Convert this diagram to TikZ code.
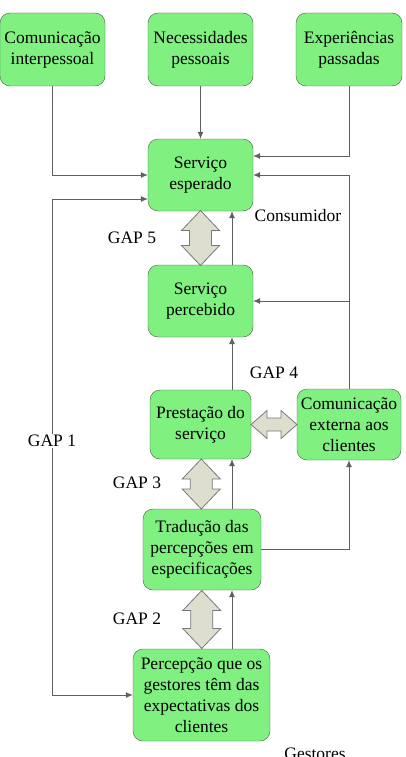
\documentclass[tikz,border=0pt]{standalone}
\usepackage{fontspec}
\setmainfont{Liberation Serif}
\usetikzlibrary{arrows.meta,positioning,calc}
\definecolor{boxgreen}{RGB}{128,240,128}
\definecolor{boxline}{RGB}{70,95,70}
\definecolor{gapfill}{RGB}{221,222,206}
\definecolor{gapline}{RGB}{120,120,120}
\definecolor{linegray}{RGB}{95,95,95}

\tikzset{
  box/.style={draw=boxline, fill=boxgreen, rounded corners=10pt, inner sep=0pt,
              align=center, font=\fontsize{17.5}{21}\selectfont},
  lbl/.style={inner sep=1pt, font=\fontsize{17.5}{21}\selectfont},
  conn/.style={draw=linegray, line width=0.8pt},
  vgap/.pic={% #1 = half length
    \draw[fill=gapfill, draw=gapline, line width=0.8pt]
      (0,-#1) -- (19,-#1+20) -- (11,-#1+20) -- (11,#1-20) -- (19,#1-20)
      -- (0,#1) -- (-19,#1-20) -- (-11,#1-20) -- (-11,-#1+20) -- (-19,-#1+20) -- cycle;
  },
  hgap/.pic={% #1 = half length
    \draw[fill=gapfill, draw=gapline, line width=0.8pt]
      (-#1,0) -- (-#1+16,-14) -- (-#1+16,-6.5) -- (#1-16,-6.5) -- (#1-16,-14)
      -- (#1,0) -- (#1-16,14) -- (#1-16,6.5) -- (-#1+16,6.5) -- (-#1+16,14) -- cycle;
  }
}

\begin{document}
\begin{tikzpicture}[x=1pt, y=-1pt, >={Latex[length=7pt,width=6pt]}]
\useasboundingbox (0,0) rectangle (405,757);

% consumer side
\node[box, minimum width=105pt, minimum height=73pt] (ci) at (52.5,49.5) {Comunicação\\interpessoal};
\node[box, minimum width=105pt, minimum height=73pt] (np) at (200.5,49.5) {Necessidades\\pessoais};
\node[box, minimum width=106pt, minimum height=73pt] (ep) at (349,49.5) {Experiências\\passadas};
\node[box, minimum width=105pt, minimum height=72pt] (esp) at (200.5,175) {Serviço\\esperado};
\node[box, minimum width=105pt, minimum height=72pt] (perc) at (200.5,301) {Serviço\\percebido};

% provider side
\node[box, minimum width=101pt, minimum height=69pt] (prest) at (200.5,424.5) {Prestação do\\serviço};
\node[box, minimum width=104pt, minimum height=71pt] (cext) at (349,424.5) {Comunicação\\externa aos\\clientes};
\node[box, minimum width=118pt, minimum height=81pt] (trad) at (202,549.5) {Tradução das\\percepções em\\especificações};
\node[box, minimum width=137pt, minimum height=92pt] (pge) at (201.5,695) {Percepção que os\\gestores têm das\\expectativas dos\\clientes};

\coordinate (up) at (232,0);
\coordinate (g1) at (52,0);

% connectors
\draw[conn, ->] (ci.south) |- (esp.west);
\draw[conn, ->] (np) -- (esp);
\draw[conn, ->] (ep.south) |- ([yshift=19pt]esp.east);
\draw[conn, ->] (cext.north) |- (esp.east);
\draw[conn, ->] (cext.north) |- (perc.east);
\draw[conn, ->] (trad.east) -| (cext.south);
\draw[conn, ->] (perc.north -| up) -- (esp.south -| up);
\draw[conn, ->] (prest.north -| up) -- (perc.south -| up);
\draw[conn, ->] (trad.north -| up) -- (prest.south -| up);
\draw[conn, ->] (pge.north -| up) -- (trad.south -| up);
\draw[conn, <->] ([yshift=-24pt]esp.west) -| (pge.west -| g1) -- (pge.west);

% gaps
\pic at ($(esp.south)!0.5!(perc.north)$) {vgap=27.5};
\pic at ($(prest.south)!0.5!(trad.north)$) {vgap=25};
\pic at ($(trad.south)!0.5!(pge.north)$) {vgap=29};
\pic at ($(prest.east)!0.5!(cext.west)$) {hgap=23};

% labels
\node[lbl] (cons) at (298,216) {Consumidor};
\node[lbl] (gap5) at (132,238) {GAP 5};
\node[lbl] (gap4) at (274,373) {GAP 4};
\node[lbl, fill=white] (gap1) at (52,441) {GAP 1};
\node[lbl] (gap3) at (137,483) {GAP 3};
\node[lbl] (gap2) at (137,619) {GAP 2};
\node[lbl, inner sep=0pt, anchor=north] (gest) at (315,748) {Gestores};
\end{tikzpicture}
\end{document}
